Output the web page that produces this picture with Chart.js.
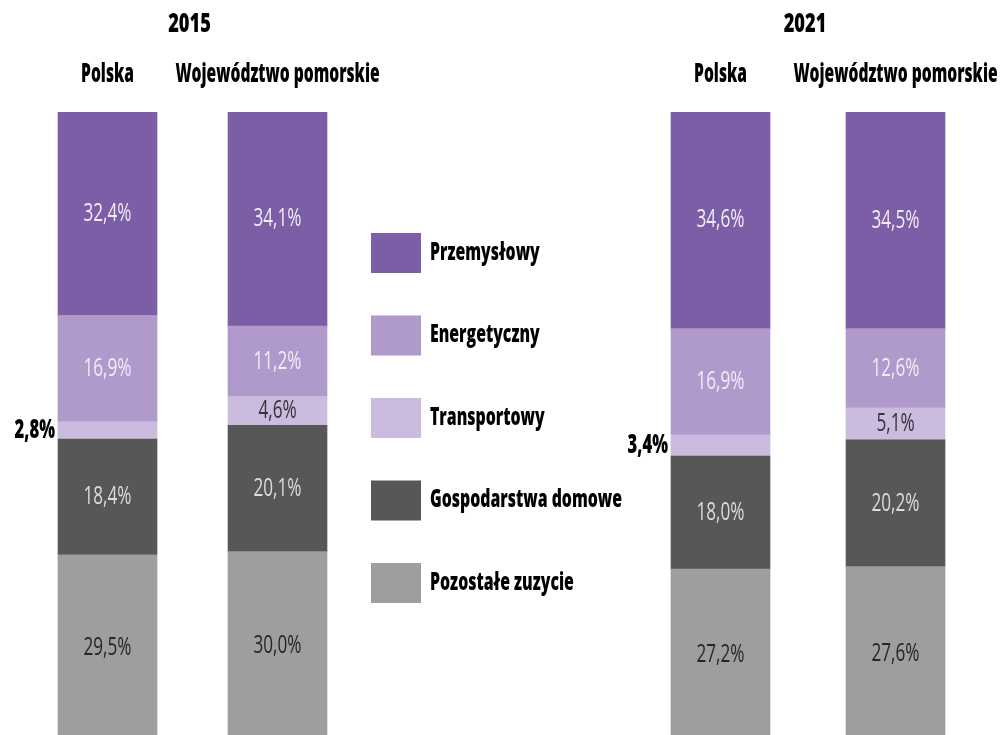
<!DOCTYPE html>
<html>
<head>
<meta charset="utf-8">
<title>Zużycie energii według sektorów</title>
<script src="https://cdn.jsdelivr.net/npm/chart.js@4.4.1/dist/chart.umd.min.js"></script>
<style>
  html, body { margin: 0; padding: 0; background: #fff; }
  .wrap { position: relative; width: 1001px; height: 735px; overflow: hidden; }
  .wrap canvas { position: absolute; left: 0; top: 0; }
</style>
</head>
<body>
<div class="wrap">
  <!-- the bars run a few pixels past the bottom edge and get cut off -->
  <canvas id="chart2015" width="1001" height="740"></canvas>
  <canvas id="chart2021" width="1001" height="740"></canvas>
</div>
<script>
const regions = ["Polska", "Województwo pomorskie"];

// stacked bottom -> top
const sectors = [
  "Pozostałe zuzycie",
  "Gospodarstwa domowe",
  "Transportowy",
  "Energetyczny",
  "Przemysłowy",
];

const values2015 = {
  pozostale: [29.5, 30.0],
  gospodarstwa: [18.4, 20.1],
  transport: [2.8, 4.6],
  energetyka: [16.9, 11.2],
  przemysl: [32.4, 34.1],
};

const values2021 = {
  pozostale: [27.2, 27.6],
  gospodarstwa: [18.0, 20.2],
  transport: [3.4, 5.1],
  energetyka: [16.9, 12.6],
  przemysl: [34.6, 34.5],
};

const colors = ["#9e9e9e", "#575757", "#cbbcdf", "#b09acb", "#7b5ea6"];
const labelColors = ["#262626", "#dcdcdc", "#333333", "#f1ecf6", "#f1ecf6"];

const boldFont = "800 26px 'Open Sans'";
const valueFont = "26px 'Open Sans'";
const legendFont = "800 24px 'Open Sans'";

function drawText(ctx, text, x, y, font, color, align, squeeze) {
  ctx.save();
  ctx.font = font;
  ctx.fillStyle = color;
  ctx.textAlign = align || "center";
  ctx.textBaseline = "middle";
  ctx.translate(x, y);
  ctx.scale(squeeze || 0.64, 1);
  ctx.fillText(text, 0, 0);
  ctx.restore();
}

function pct(v) {
  return v.toFixed(1).replace(".", ",") + "%";
}

function buildDatasets(v) {
  const rows = [v.pozostale, v.gospodarstwa, v.transport, v.energetyka, v.przemysl];
  return rows.map((data, i) => ({
    label: sectors[i],
    data: data,
    backgroundColor: colors[i],
    borderWidth: 0,
    barThickness: 99,
    labelColor: labelColors[i],
  }));
}

const valueLabels = {
  id: "valueLabels",
  afterDatasetsDraw(chart) {
    const ctx = chart.ctx;
    chart.data.datasets.forEach((ds, i) => {
      const meta = chart.getDatasetMeta(i);
      meta.data.forEach((bar, j) => {
        const v = ds.data[j];
        const yMid = (bar.y + bar.base) / 2;
        if (v < 4) {
          // thin slice, label goes to the left of the bar
          drawText(ctx, pct(v), bar.x - bar.width / 2 - 3, yMid, boldFont, "#000", "right");
        } else {
          drawText(ctx, pct(v), bar.x, yMid, valueFont, ds.labelColor, "center", 0.66);
        }
      });
    });
  },
};

const headings = {
  id: "headings",
  afterDraw(chart, args, opts) {
    const ctx = chart.ctx;
    const area = chart.chartArea;
    const xScale = chart.scales.x;
    drawText(ctx, opts.year, (area.left + area.right) / 2 - 3, 25, boldFont, "#000", "center", 0.7);
    chart.data.labels.forEach((lab, i) => {
      drawText(ctx, lab, xScale.getPixelForValue(i), 75, boldFont, "#000", "center", 0.6);
    });
  },
};

const sideLegend = {
  id: "sideLegend",
  afterDraw(chart, args, opts) {
    if (!opts.show) return;
    const ctx = chart.ctx;
    const ds = chart.data.datasets.slice().reverse();
    ds.forEach((d, k) => {
      const top = 233 + k * 82.5;
      ctx.fillStyle = d.backgroundColor;
      ctx.fillRect(371, top, 50, 40);
      drawText(ctx, d.label, 430, top + 20, legendFont, "#000", "left", 0.66);
    });
  },
};

function makeChart(id, year, values, padLeft, padRight, showLegend) {
  return new Chart(document.getElementById(id), {
    type: "bar",
    data: {
      labels: regions,
      datasets: buildDatasets(values),
    },
    options: {
      responsive: false,
      animation: false,
      devicePixelRatio: 1,
      layout: { padding: { left: padLeft, right: padRight, top: 112, bottom: 0 } },
      scales: {
        x: { stacked: true, display: false },
        y: { stacked: true, display: false, min: 0, max: 100 },
      },
      plugins: {
        legend: { display: false },
        tooltip: { enabled: false },
        headings: { year: year },
        sideLegend: { show: showLegend },
      },
    },
    plugins: [valueLabels, headings, sideLegend],
  });
}

makeChart("chart2015", "2015", values2015, 22.5, 638.5, true);
makeChart("chart2021", "2021", values2021, 633, 18, false);
</script>
</body>
</html>
